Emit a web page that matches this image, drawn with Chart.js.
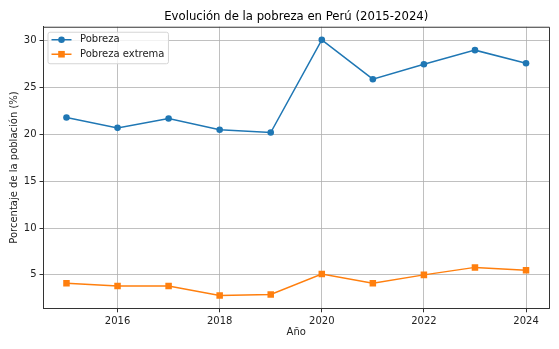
<!DOCTYPE html>
<html>
<head>
<meta charset="utf-8">
<script src="https://cdn.jsdelivr.net/npm/chart.js@4"></script>
<style>
    html, body { margin: 0; padding: 0; background: #fff; }
    #wrap { width: 559px; height: 349px; }
</style>
</head>
<body>
<div id="wrap"><canvas id="povChart" width="559" height="349"></canvas></div>
<script>
// Data
const years = [2015, 2016, 2017, 2018, 2019, 2020, 2021, 2022, 2023, 2024];
const pobreza = [21.8, 20.7, 21.7, 20.5, 20.2, 30.1, 25.9, 27.5, 29.0, 27.6];
const pobrezaExtrema = [4.1, 3.8, 3.8, 2.8, 2.9, 5.1, 4.1, 5.0, 5.8, 5.5];
const xTicks = [2016, 2018, 2020, 2022, 2024];
const yTicks = [5, 10, 15, 20, 25, 30];

const FONT = "'DejaVu Sans', sans-serif";
const AXIS_COLOR = '#333333';

function toPoints(values) {
    return years.map((y, i) => ({ x: y, y: values[i] }));
}

// top & right spines + legend in the upper left corner (matplotlib style)
const framePlugin = {
    id: 'frame',
    afterDraw(chart) {
        const ctx = chart.ctx;
        const a = chart.chartArea;
        ctx.save();
        ctx.strokeStyle = AXIS_COLOR;
        ctx.lineWidth = 1;
        ctx.beginPath();
        ctx.moveTo(a.left, a.top + 0.5);
        ctx.lineTo(a.right + 0.5, a.top + 0.5);
        ctx.lineTo(a.right + 0.5, a.bottom);
        ctx.stroke();

        // legend
        ctx.font = '10px ' + FONT;
        const sets = chart.data.datasets;
        let textW = 0;
        sets.forEach(ds => { textW = Math.max(textW, ctx.measureText(ds.label).width); });
        const bx = a.left + 4, by = a.top + 5;
        const bw = 32 + textW + 4, bh = 31.5;
        ctx.fillStyle = 'rgba(255,255,255,0.8)';
        ctx.strokeStyle = '#d5d5d5';
        ctx.beginPath();
        ctx.roundRect(bx + 0.5, by + 0.5, bw, bh, 2);
        ctx.fill();
        ctx.stroke();

        sets.forEach((ds, i) => {
            const cy = by + 8 + i * 14.5;
            ctx.strokeStyle = ds.borderColor;
            ctx.lineWidth = 1.5;
            ctx.beginPath();
            ctx.moveTo(bx + 4, cy);
            ctx.lineTo(bx + 24, cy);
            ctx.stroke();
            ctx.fillStyle = ds.backgroundColor;
            if (ds.pointStyle === 'rect') {
                ctx.fillRect(bx + 14 - 3.3, cy - 3.3, 6.6, 6.6);
            } else {
                ctx.beginPath();
                ctx.arc(bx + 14, cy, 3.3, 0, Math.PI * 2);
                ctx.fill();
            }
            ctx.fillStyle = '#222';
            ctx.textBaseline = 'middle';
            ctx.textAlign = 'left';
            ctx.fillText(ds.label, bx + 32.5, cy);
        });
        ctx.restore();
    }
};

const ctx = document.getElementById('povChart').getContext('2d');
new Chart(ctx, {
    type: 'line',
    data: {
        datasets: [{
            label: 'Pobreza',
            data: toPoints(pobreza),
            borderColor: '#1f77b4',
            backgroundColor: '#1f77b4',
            borderWidth: 1.5,
            pointStyle: 'circle',
            pointRadius: 3.3,
            pointBorderWidth: 0,
            tension: 0
        }, {
            label: 'Pobreza extrema',
            data: toPoints(pobrezaExtrema),
            borderColor: '#ff7f0e',
            backgroundColor: '#ff7f0e',
            borderWidth: 1.5,
            pointStyle: 'rect',
            pointRadius: 4.6,
            pointBorderWidth: 0,
            tension: 0
        }]
    },
    options: {
        responsive: false,
        animation: false,
        layout: { padding: { left: 0, right: 10, top: 0, bottom: 0 } },
        plugins: {
            legend: { display: false },
            tooltip: { enabled: false },
            title: {
                display: true,
                text: 'Evolución de la pobreza en Perú (2015-2024)',
                fullSize: false,
                color: '#000',
                font: { family: FONT, size: 11.7, weight: 'normal' },
                padding: { top: 10, bottom: 2.7 }
            }
        },
        scales: {
            x: {
                type: 'linear',
                min: 2014.55,
                max: 2024.45,
                afterBuildTicks: scale => { scale.ticks = xTicks.map(v => ({ value: v })); },
                afterFit: scale => { scale.height = 40.7; },
                ticks: {
                    color: '#222',
                    font: { family: FONT, size: 10 },
                    padding: 3,
                    maxRotation: 0,
                    callback: v => String(v)
                },
                grid: { color: '#b0b0b0', lineWidth: 0.8, tickLength: 4, tickColor: AXIS_COLOR, tickWidth: 1 },
                border: { display: true, color: AXIS_COLOR, width: 1 },
                title: {
                    display: true,
                    text: 'Año',
                    color: '#222',
                    font: { family: FONT, size: 10 },
                    padding: { top: 0, bottom: 11 }
                }
            },
            y: {
                type: 'linear',
                min: 1.43,
                max: 31.5,
                afterBuildTicks: scale => { scale.ticks = yTicks.map(v => ({ value: v })); },
                afterFit: scale => { scale.width = 43.5; },
                ticks: {
                    color: '#222',
                    font: { family: FONT, size: 10 },
                    padding: 3
                },
                grid: { color: '#b0b0b0', lineWidth: 0.8, tickLength: 4, tickColor: AXIS_COLOR, tickWidth: 1 },
                border: { display: true, color: AXIS_COLOR, width: 1 },
                title: {
                    display: true,
                    text: 'Porcentaje de la población (%)',
                    color: '#222',
                    font: { family: FONT, size: 10 },
                    padding: { top: 8, bottom: 0 }
                }
            }
        }
    },
    plugins: [framePlugin]
});
</script>
</body>
</html>
